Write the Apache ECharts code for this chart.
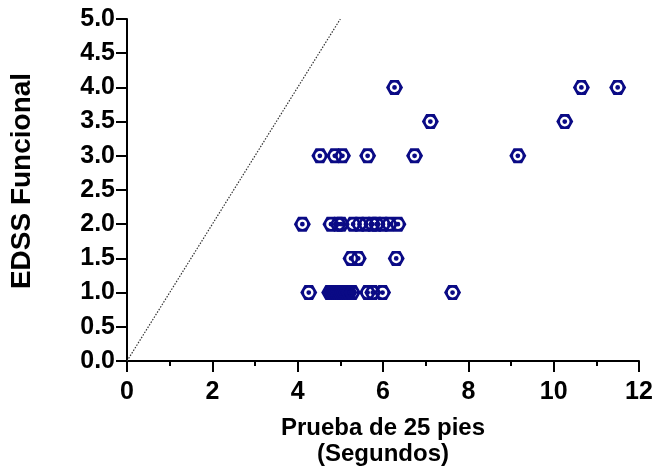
<!DOCTYPE html>
<html>
<head>
<meta charset="utf-8">
<script src="https://cdn.jsdelivr.net/npm/echarts@6/dist/echarts.min.js"></script>
<style>html,body{margin:0;padding:0;background:#fff;}#c{width:658px;height:466px;}</style>
</head>
<body>
<div id="c"></div>
<script>
// Data
var times = [
  6.27, 10.65, 11.5,
  7.11, 10.26,
  4.52, 4.87, 5.05, 5.64, 6.74, 9.16,
  4.11, 4.78, 4.95, 5.02, 5.3, 5.45, 5.6, 5.75, 5.85, 6.0, 6.15, 6.35,
  5.25, 5.42, 6.31,
  4.26, 4.75, 4.8, 4.85, 4.9, 4.95, 5.0, 5.05, 5.1, 5.15, 5.2, 5.28, 5.64, 5.76, 5.99, 7.63
];
var edss = [
  4.0, 4.0, 4.0,
  3.5, 3.5,
  3.0, 3.0, 3.0, 3.0, 3.0, 3.0,
  2.0, 2.0, 2.0, 2.0, 2.0, 2.0, 2.0, 2.0, 2.0, 2.0, 2.0, 2.0,
  1.5, 1.5, 1.5,
  1.0, 1.0, 1.0, 1.0, 1.0, 1.0, 1.0, 1.0, 1.0, 1.0, 1.0, 1.0, 1.0, 1.0, 1.0, 1.0
];
var refLineX = [0, 5];
var refLineY = [0, 5];

var points = times.map(function (t, i) { return [t, edss[i]]; });
var refLine = refLineX.map(function (x, i) { return [x, refLineY[i]]; });

var hexPath = 'path://M0,50 L25,0 L75,0 L100,50 L75,100 L25,100 Z ' +
  'M50,18 A28,32 0 1,0 50,82 A28,32 0 1,0 50,18 Z ' +
  'M50,34 A14,16 0 1,1 50,66 A14,16 0 1,1 50,34 Z';

var font = '"Liberation Sans", Arial, Helvetica, sans-serif';
var chart = echarts.init(document.getElementById('c'));
chart.setOption({
  animation: false,
  backgroundColor: '#fff',
  grid: { left: 127, right: 19, top: 19, bottom: 105, containLabel: false, outerBoundsMode: 'none' },
  xAxis: {
    type: 'value', min: 0, max: 12, interval: 2,
    name: 'Prueba de 25 pies\n(Segundos)',
    nameLocation: 'middle', nameGap: 54,
    nameTextStyle: { fontFamily: font, fontWeight: 'bold', fontSize: 24, color: '#000', lineHeight: 26 },
    axisLine: { show: true, onZero: false, lineStyle: { color: '#000', width: 2 } },
    axisTick: { show: true, length: 11, lineStyle: { color: '#000', width: 2 } },
    minorTick: { show: true, splitNumber: 2, length: 5, lineStyle: { color: '#000', width: 2 } },
    axisLabel: { fontFamily: font, fontWeight: 'bold', fontSize: 25, color: '#000', margin: 19 },
    splitLine: { show: false }
  },
  yAxis: {
    type: 'value', min: 0, max: 5, interval: 0.5,
    name: 'EDSS Funcional',
    nameLocation: 'middle', nameGap: 91,
    nameTextStyle: { fontFamily: font, fontWeight: 'bold', fontSize: 28, color: '#000', padding: [0, 0, 0, 18] },
    axisLine: { show: true, onZero: false, lineStyle: { color: '#000', width: 2 } },
    axisTick: { show: true, length: 11, lineStyle: { color: '#000', width: 2 } },
    axisLabel: { fontFamily: font, fontWeight: 'bold', fontSize: 25, color: '#000', margin: 12,
      formatter: function (v) { return v.toFixed(1); } },
    splitLine: { show: false }
  },
  series: [
    {
      type: 'line', data: refLine, symbol: 'none', silent: true,
      lineStyle: { color: '#333', width: 1.2, type: [1.5, 1.5] }, z: 1
    },
    {
      type: 'scatter', data: points, symbol: hexPath, symbolSize: [17, 15],
      itemStyle: { color: '#0a0a85', opacity: 1 }, z: 2
    }
  ]
});
</script>
</body>
</html>
